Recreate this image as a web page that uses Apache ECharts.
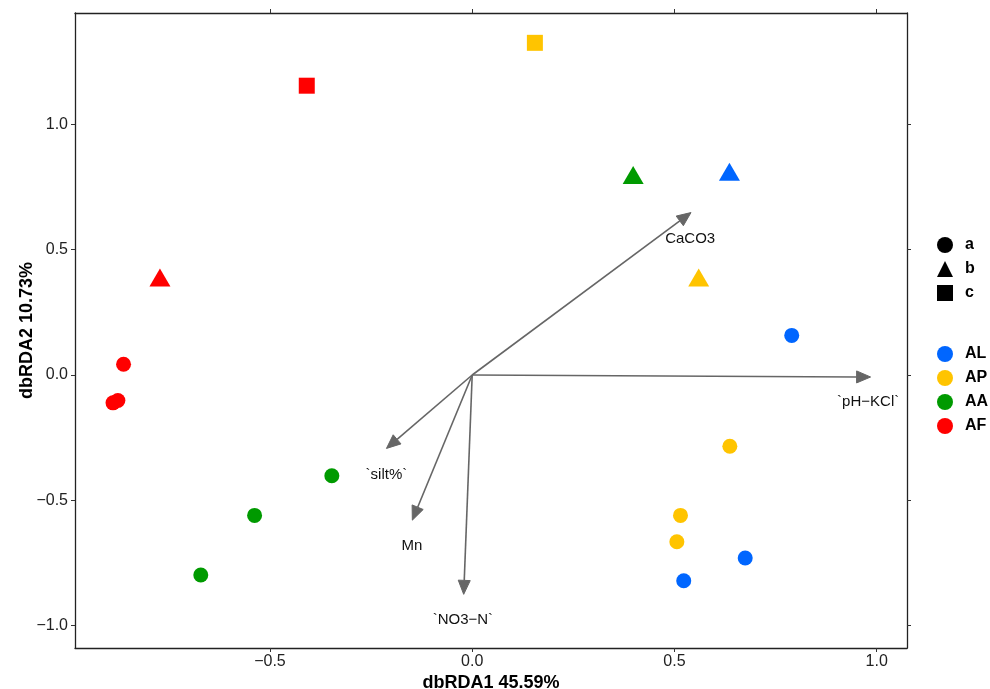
<!DOCTYPE html>
<html>
<head>
<meta charset="utf-8">
<title>dbRDA</title>
<script src="https://cdn.jsdelivr.net/npm/echarts@6/dist/echarts.min.js"></script>
<style>
  html, body { margin: 0; padding: 0; background: #fff; }
  #main { width: 990px; height: 689px; }
</style>
</head>
<body>
<div id="main"></div>
<script>
// groups and colours
const groups = ['AL', 'AP', 'AA', 'AF'];
const groupColors = ['#0066ff', '#ffc400', '#009a00', '#ff0000'];
const shapeNames = ['a', 'b', 'c'];

// samples
const sampleGroup = ['AL', 'AL', 'AL', 'AL',
  'AP', 'AP', 'AP', 'AP', 'AP',
  'AA', 'AA', 'AA', 'AA',
  'AF', 'AF', 'AF', 'AF', 'AF'];
const sampleShape = ['a', 'a', 'a', 'b',
  'a', 'a', 'a', 'b', 'c',
  'a', 'a', 'a', 'b',
  'a', 'a', 'a', 'b', 'c'];
const sampleX = [0.790, 0.675, 0.523, 0.636,
  0.637, 0.515, 0.506, 0.560, 0.155,
  -0.347, -0.538, -0.671, 0.398,
  -0.862, -0.876, -0.888, -0.772, -0.409];
const sampleY = [0.158, -0.730, -0.821, 0.799,
  -0.284, -0.560, -0.665, 0.377, 1.325,
  -0.402, -0.560, -0.798, 0.786,
  0.043, -0.102, -0.111, 0.377, 1.154];

// environmental vectors
const envNames = ['CaCO3', '`pH\u2212KCl`', '`silt%`', 'Mn', '`NO3\u2212N`'];
const envX = [0.541, 0.985, -0.212, -0.148, -0.021];
const envY = [0.648, -0.008, -0.293, -0.579, -0.875];
const envLabelX = [0.539, 0.979, -0.212, -0.149, -0.023];
const envLabelY = [0.545, -0.107, -0.397, -0.681, -0.977];

const xTicks = [-0.5, 0, 0.5, 1.0];
const yTicks = [-1.0, -0.5, 0, 0.5, 1.0];

// marker look per shape
const shapeSymbol = { a: 'circle', b: 'triangle', c: 'rect' };
const shapeSize = { a: 15, b: [21, 18], c: 16 };
const shapeOffset = { a: [0, 0], b: [0, -3], c: [0, 0] };

const fmt = v => v.toFixed(1).replace('-', '\u2212');

const chart = echarts.init(document.getElementById('main'));

const axisLineStyle = { color: '#222', width: 1.3 };
const tickStyle = { color: '#333', width: 1 };

const groupSeries = groups.map((g, gi) => {
  const data = [];
  sampleGroup.forEach((sg, i) => {
    if (sg !== g) return;
    const s = sampleShape[i];
    data.push({
      value: [sampleX[i], sampleY[i]],
      symbol: shapeSymbol[s],
      symbolSize: shapeSize[s],
      symbolOffset: shapeOffset[s]
    });
  });
  return {
    name: g,
    type: 'scatter',
    data: data,
    itemStyle: { color: groupColors[gi], opacity: 1 },
    z: 5
  };
});

// empty series only for the shape legend
const shapeSeries = shapeNames.map(s => ({
  name: s,
  type: 'scatter',
  data: [],
  itemStyle: { color: '#000', opacity: 1 }
}));

// arrows from origin
const arrowSeries = {
  type: 'custom',
  data: envX.map((x, i) => [x, envY[i]]),
  renderItem: function (params, api) {
    const p0 = api.coord([0, 0]);
    const p1 = api.coord([api.value(0), api.value(1)]);
    const dx = p1[0] - p0[0], dy = p1[1] - p0[1];
    const len = Math.sqrt(dx * dx + dy * dy);
    const ux = dx / len, uy = dy / len;
    const hl = 14, hw = 6;
    const bx = p1[0] - ux * hl, by = p1[1] - uy * hl;
    return {
      type: 'group',
      children: [
        {
          type: 'line',
          shape: { x1: p0[0], y1: p0[1], x2: bx, y2: by },
          style: { stroke: '#666', lineWidth: 1.6 }
        },
        {
          type: 'polygon',
          shape: { points: [[p1[0], p1[1]], [bx - uy * hw, by + ux * hw], [bx + uy * hw, by - ux * hw]] },
          style: { fill: '#666', stroke: '#666', lineWidth: 1 }
        }
      ]
    };
  },
  z: 3,
  silent: true
};

const labelSeries = {
  type: 'custom',
  data: envLabelX.map((x, i) => [x, envLabelY[i]]),
  renderItem: function (params, api) {
    const p = api.coord([api.value(0), api.value(1)]);
    return {
      type: 'text',
      x: p[0],
      y: p[1],
      style: {
        text: envNames[params.dataIndex],
        align: 'center',
        verticalAlign: 'middle',
        fill: '#111',
        font: '15px "Liberation Sans", Arial, sans-serif'
      }
    };
  },
  z: 4,
  silent: true
};

chart.setOption({
  animation: false,
  backgroundColor: '#fff',
  textStyle: { fontFamily: '"Liberation Sans", Arial, sans-serif' },
  grid: { left: 75, right: 83, top: 13, bottom: 41, outerBoundsMode: 'none' },
  legend: [
    {
      data: [
        { name: 'a', icon: 'circle' },
        { name: 'b', icon: 'triangle' },
        { name: 'c', icon: 'rect' }
      ],
      orient: 'vertical',
      left: 932,
      top: 232,
      itemWidth: 16,
      itemHeight: 16,
      itemGap: 8,
      selectedMode: false,
      textStyle: { fontSize: 16, fontWeight: 'bold', color: '#000', padding: [0, 0, 0, 7] }
    },
    {
      data: groups.map(g => ({ name: g, icon: 'circle' })),
      orient: 'vertical',
      left: 932,
      top: 341,
      itemWidth: 16,
      itemHeight: 16,
      itemGap: 8,
      selectedMode: false,
      textStyle: { fontSize: 16, fontWeight: 'bold', color: '#000', padding: [0, 0, 0, 7] }
    }
  ],
  xAxis: [
    {
      type: 'value',
      min: -0.982,
      max: 1.075,
      position: 'bottom',
      name: 'dbRDA1 45.59%',
      nameLocation: 'middle',
      nameGap: 26,
      nameMoveOverlap: false,
      nameTextStyle: { fontSize: 18, fontWeight: 'bold', color: '#000' },
      axisLine: { show: true, onZero: false, lineStyle: axisLineStyle },
      axisTick: { show: true, length: 4, customValues: xTicks, lineStyle: tickStyle },
      axisLabel: { customValues: xTicks, formatter: fmt, fontSize: 16, color: '#222', margin: 6 },
      splitLine: { show: false }
    },
    {
      type: 'value',
      min: -0.982,
      max: 1.075,
      position: 'top',
      axisLine: { show: true, onZero: false, lineStyle: axisLineStyle },
      axisTick: { show: true, length: 4, customValues: xTicks, lineStyle: tickStyle },
      axisLabel: { show: false },
      splitLine: { show: false }
    }
  ],
  yAxis: [
    {
      type: 'value',
      min: -1.089,
      max: 1.444,
      position: 'left',
      name: 'dbRDA2 10.73%',
      nameLocation: 'middle',
      nameGap: 39,
      nameMoveOverlap: false,
      nameRotate: 90,
      nameTextStyle: { fontSize: 18, fontWeight: 'bold', color: '#000' },
      axisLine: { show: true, onZero: false, lineStyle: axisLineStyle },
      axisTick: { show: true, length: 4, customValues: yTicks, lineStyle: tickStyle },
      axisLabel: { customValues: yTicks, formatter: fmt, fontSize: 16, color: '#222', margin: 7 },
      splitLine: { show: false }
    },
    {
      type: 'value',
      min: -1.089,
      max: 1.444,
      position: 'right',
      axisLine: { show: true, onZero: false, lineStyle: axisLineStyle },
      axisTick: { show: true, length: 4, customValues: yTicks, lineStyle: tickStyle },
      axisLabel: { show: false },
      splitLine: { show: false }
    }
  ],
  series: [arrowSeries, labelSeries].concat(groupSeries, shapeSeries)
});
</script>
</body>
</html>
